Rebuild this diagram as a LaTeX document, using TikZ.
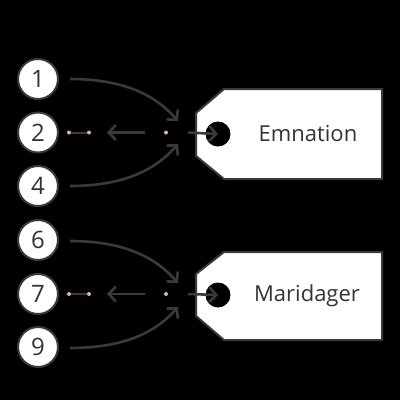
\documentclass[tikz,border=0pt]{standalone}
\usepackage{fontspec}
\setmainfont{Open Sans}
\usetikzlibrary{arrows.meta}
\definecolor{ln}{HTML}{3A3A3A}
\definecolor{dotc}{HTML}{E2B48C}
\definecolor{txt}{HTML}{333333}
\begin{document}
\begin{tikzpicture}[x=1pt,y=-1pt,
  numc/.style={circle,fill=white,draw=ln,line width=2pt,minimum size=40pt,inner sep=0pt,font=\fontsize{24}{24}\selectfont,text=txt},
  arr/.style={draw=ln,line width=2.6pt,-{Straight Barb[length=7pt,width=15pt,line width=2.6pt]}},
  plain/.style={draw=ln,line width=2.6pt},
  tagbox/.style={fill=white,draw=ln,line width=2pt,line join=miter},
  hole/.style={circle,fill=black,minimum size=25pt,inner sep=0pt},
  lbl/.style={font=\fontsize{22}{22}\selectfont,text=txt},
  pdot/.style={circle,fill=dotc,minimum size=4pt,inner sep=0pt}]
\fill[black] (0,0) rectangle (400,400);
\useasboundingbox (0,0) rectangle (400,400);

% ---------- group 1 ----------
\draw[tagbox] (196,113) -- (224,89) -- (382,89) -- (382,179) -- (224,179) -- (196,156) -- cycle;
\node[hole] (h1) at (218,134) {};
\node[lbl] (t1) at (308,134) {Emnation};

\node[numc] (n1) at (38,79) {1};
\node[numc] (n2) at (38,132.5) {2};
\node[numc] (n4) at (38,186) {4};

\coordinate (e1a) at (178,121);
\coordinate (e1b) at (178,144);
\draw[arr] (70,79) .. controls (135,79) and (162,103) .. (e1a);
\draw[arr] (70,186) .. controls (135,186) and (162,162) .. (e1b);

\node[pdot] (d1a) at (69,132.5) {};
\node[pdot] (d1b) at (89,132.5) {};
\draw[plain,line width=2pt] (d1a) -- (d1b);
\coordinate (l1s) at (145,132.5);
\coordinate (l1e) at (107,132.5);
\draw[arr] (l1s) -- (l1e);
\node[pdot] (d1c) at (166,132.5) {};
\coordinate (r1s) at (188,132.5);
\draw[arr] (r1s) -- (h1.center);

% ---------- group 2 ----------
\draw[tagbox] (196,274) -- (224,252) -- (382,252) -- (382,340) -- (224,340) -- (196,316) -- cycle;
\node[hole] (h2) at (218,295) {};
\node[lbl] (t2) at (307,296) {Maridager};

\node[numc] (n6) at (38,240) {6};
\node[numc] (n7) at (38,294) {7};
\node[numc] (n9) at (38,347) {9};

\coordinate (e2a) at (178,283);
\coordinate (e2b) at (178,307);
\draw[arr] (70,241) .. controls (135,241) and (162,265) .. (e2a);
\draw[arr] (70,348) .. controls (135,348) and (162,325) .. (e2b);

\node[pdot] (d2a) at (69,294) {};
\node[pdot] (d2b) at (89,294) {};
\draw[plain,line width=2pt] (d2a) -- (d2b);
\coordinate (l2s) at (145,294);
\coordinate (l2e) at (107,294);
\draw[arr] (l2s) -- (l2e);
\node[pdot] (d2c) at (166,294) {};
\coordinate (r2s) at (188,294);
\draw[arr] (r2s) -- (h2.center);
\end{tikzpicture}
\end{document}
